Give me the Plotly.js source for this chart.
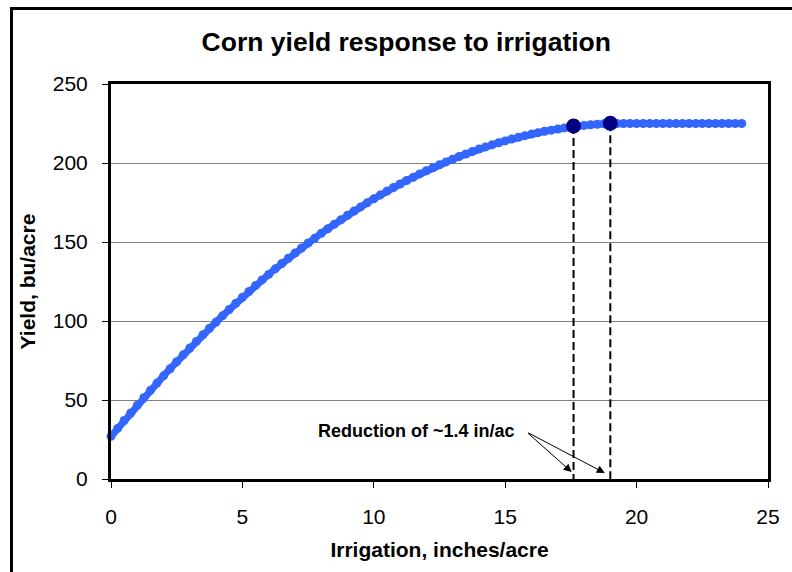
<!DOCTYPE html>
<html>
<head>
<meta charset="utf-8">
<script src="https://cdn.plot.ly/plotly-3.0.1.min.js"></script>
<style>
  html, body { margin: 0; padding: 0; background: #ffffff; overflow: hidden; }
  #frame { position: absolute; left: 10px; top: 7px; width: 900px; height: 700px; border: 3px solid #000; box-sizing: border-box; }
  #chart { position: absolute; left: 0; top: 0; width: 792px; height: 572px; }
</style>
</head>
<body>
<div id="frame"></div>
<div id="chart"></div>
<script>
// Irrigation (inches/acre) and corn yield (bu/acre)
const irrigation = [0,0.25,0.5,0.75,1,1.25,1.5,1.75,2,2.25,2.5,2.75,3,3.25,3.5,3.75,4,4.25,4.5,4.75,
  5,5.25,5.5,5.75,6,6.25,6.5,6.75,7,7.25,7.5,7.75,8,8.25,8.5,8.75,9,9.25,9.5,9.75,
  10,10.25,10.5,10.75,11,11.25,11.5,11.75,12,12.25,12.5,12.75,13,13.25,13.5,13.75,14,14.25,14.5,14.75,
  15,15.25,15.5,15.75,16,16.25,16.5,16.75,17,17.25,17.5,17.75,18,18.25,18.5,18.75,19,19.25,19.5,19.75,
  20,20.25,20.5,20.75,21,21.25,21.5,21.75,22,22.25,22.5,22.75,23,23.25,23.5,23.75,24];
const yieldBu = [27.0,32.0,37.0,41.8,46.6,51.4,56.1,60.7,65.3,69.8,74.2,78.6,82.9,87.1,91.3,95.4,99.4,103.4,107.3,111.2,
  115.0,118.7,122.4,126.0,129.5,133.0,136.4,139.7,143.0,146.2,149.4,152.4,155.5,158.4,161.3,164.1,166.9,169.6,172.2,174.8,
  177.3,179.8,182.2,184.5,186.7,188.9,191.0,193.1,195.1,197.0,198.9,200.7,202.4,204.1,205.7,207.3,208.8,210.2,211.5,212.8,
  214.0,215.2,216.3,217.3,218.3,219.2,220.1,220.8,221.5,222.2,222.8,223.3,223.8,224.2,224.5,224.8,225.0,225.0,225.0,225.0,
  225.0,225.0,225.0,225.0,225.0,225.0,225.0,225.0,225.0,225.0,225.0,225.0,225.0,225.0,225.0,225.0,225.0];

// Highlighted points (reduced irrigation vs. full irrigation)
const keyIrrigation = [17.6, 19.0];
const keyYield = [223.4, 225.2];

// Annotation
const noteText = "Reduction of ~1.4 in/ac";
const noteAnchor = [15.45, 30.4];
const arrowTail = [15.82, 29.7];
const arrowHeadsX = [17.53, 18.79];
const arrowHeadsY = [4.4, 3.8];

// Axis ticks
const xTicks = [0, 5, 10, 15, 20, 25];
const yTicks = [0, 50, 100, 150, 200, 250];

const FONT = "Liberation Sans, Arial, sans-serif";

const traces = [];
// dashed drop lines
keyIrrigation.forEach((xv, i) => {
  traces.push({
    x: [xv, xv], y: [keyYield[i], 0], mode: 'lines', type: 'scatter',
    line: {color: '#000000', width: 2, dash: '8px,4px'}, hoverinfo: 'skip', cliponaxis: false
  });
});
traces.push({
  x: irrigation, y: yieldBu, mode: 'lines+markers', type: 'scatter',
  line: {color: '#3366ff', width: 7},
  marker: {color: '#3366ff', size: 9, symbol: 'circle'},
  cliponaxis: false
});
traces.push({
  x: keyIrrigation, y: keyYield, mode: 'markers', type: 'scatter',
  marker: {color: '#000080', size: 15, symbol: 'circle'},
  cliponaxis: false
});

const annotations = [{
  x: noteAnchor[0], y: noteAnchor[1], xref: 'x', yref: 'y', text: noteText,
  showarrow: false, xanchor: 'right', yanchor: 'middle',
  font: {family: FONT, size: 18, color: '#000', weight: 'bold'}
}];
arrowHeadsX.forEach((hx, i) => {
  annotations.push({
    x: hx, y: arrowHeadsY[i], xref: 'x', yref: 'y', axref: 'x', ayref: 'y',
    ax: arrowTail[0], ay: arrowTail[1], text: '', showarrow: true,
    arrowhead: 2, arrowsize: 1.6, arrowwidth: 1, arrowcolor: '#000'
  });
});

const layout = {
  width: 792, height: 572,
  margin: {l: 111, r: 24, t: 84, b: 93, pad: 0},
  paper_bgcolor: 'rgba(0,0,0,0)',
  plot_bgcolor: '#ffffff',
  showlegend: false,
  font: {family: FONT, color: '#000'},
  title: {
    text: 'Corn yield response to irrigation',
    font: {family: FONT, size: 26.5, color: '#000', weight: 'bold'},
    x: 0.513, xref: 'container', xanchor: 'center',
    y: 1 - 42/572, yref: 'container', yanchor: 'middle'
  },
  xaxis: {
    range: [0, 25], tickvals: xTicks, ticktext: xTicks.map(String),
    showgrid: false, zeroline: false,
    showline: true, linecolor: '#000', linewidth: 3, mirror: true,
    ticks: 'outside', ticklen: 6, tickwidth: 1, tickcolor: '#000',
    ticklabelstandoff: 11,
    tickfont: {family: FONT, size: 21, color: '#000'},
    title: {text: 'Irrigation, inches/acre', standoff: 16,
            font: {family: FONT, size: 21, color: '#000', weight: 'bold'}}
  },
  yaxis: {
    range: [0, 250], tickvals: yTicks, ticktext: yTicks.map(String),
    showgrid: true, gridcolor: '#808080', gridwidth: 1, zeroline: false,
    showline: true, linecolor: '#000', linewidth: 3, mirror: true,
    ticks: 'outside', ticklen: 6, tickwidth: 1, tickcolor: '#000',
    ticklabelstandoff: 10,
    tickfont: {family: FONT, size: 21, color: '#000'},
    title: {text: 'Yield, bu/acre', standoff: 12,
            font: {family: FONT, size: 21, color: '#000', weight: 'bold'}}
  },
  annotations: annotations
};

Plotly.newPlot('chart', traces, layout, {displayModeBar: false, staticPlot: true});
</script>
</body>
</html>
